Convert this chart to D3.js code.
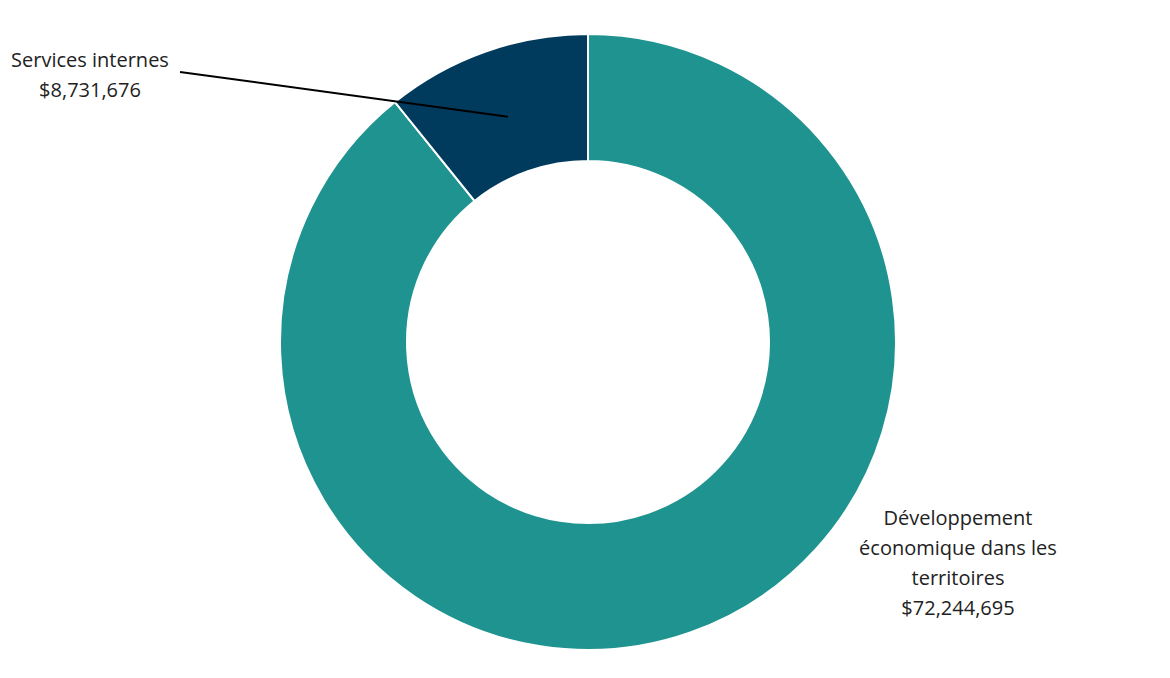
<!DOCTYPE html>
<html><head><meta charset="utf-8">
<script src="https://cdn.jsdelivr.net/npm/d3@7"></script>
<style>body{margin:0;background:#fff}</style>
</head><body>
<script>
// données du graphique
const categories = ['Développement économique dans les territoires', 'Services internes']
const values = [72244695, 8731676]
const labels = [['Développement', 'économique dans les', 'territoires', '$72,244,695'], ['Services internes', '$8,731,676']]
const colors = ['#1F9390', '#003A5D']

const W = 1170, H = 678
const cx = 588, cy = 342, rOut = 308, rIn = 181

const svg = d3.select('body').append('svg').attr('width', W).attr('height', H)
const pie = d3.pie().sort(null)
const arcs = pie(values)
const arc = d3.arc().innerRadius(rIn).outerRadius(rOut)

const g = svg.append('g').attr('transform', `translate(${cx},${cy})`)
g.selectAll('path').data(arcs).enter().append('path')
  .attr('d', arc)
  .attr('fill', (d, i) => colors[i])
  .attr('stroke', '#fff').attr('stroke-width', 2)

// ligne de rappel pour Services internes
const mid = d3.arc().innerRadius(rIn + 60).outerRadius(rIn + 60).centroid(arcs[1])
svg.append('line')
  .attr('x1', 180).attr('y1', 72)
  .attr('x2', cx + mid[0]).attr('y2', cy + mid[1] + 2)
  .attr('stroke', '#000').attr('stroke-width', 2)

function block(lines, x, y0, dy) {
  svg.append('text').attr('text-anchor', 'middle')
    .attr('font-family', 'Open Sans, sans-serif').attr('font-size', 20).attr('fill', '#222')
    .selectAll('tspan').data(lines).enter().append('tspan')
    .attr('x', x).attr('y', (d, i) => y0 + i * dy).text(d => d)
}
block(labels[1], 90, 67, 30)
block(labels[0], 958, 525, 30)
</script>
</body></html>
